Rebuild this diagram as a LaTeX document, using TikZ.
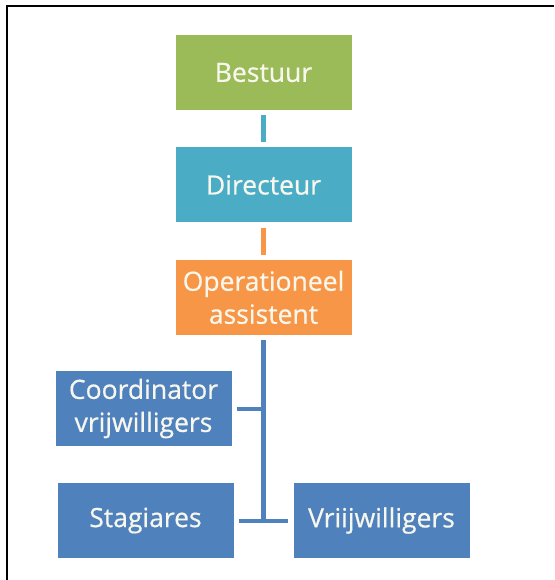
\documentclass[tikz,border=0pt]{standalone}
\usepackage{fontspec}
\setmainfont{Open Sans}
\newfontfamily\orgfont{Open Sans}[FakeBold=0.6]
\usepackage{tikz}
\usetikzlibrary{positioning}
\definecolor{orggreen}{HTML}{9BBB59}
\definecolor{orgteal}{HTML}{4BACC6}
\definecolor{orgorange}{HTML}{F79646}
\definecolor{orgblue}{HTML}{4F81BD}
\definecolor{boxtext}{HTML}{F7F7EE}
\tikzset{
  orgbox/.style={rectangle, minimum width=176pt, minimum height=75pt, inner sep=0pt,
    align=center, text=boxtext, font=\orgfont\fontsize{26.5}{33}\selectfont},
  orgline/.style={line width=5pt, shorten <=5pt, shorten >=5pt}
}

\begin{document}
\begin{tikzpicture}[x=1pt,y=-1pt,node distance=37pt]
\useasboundingbox (0,0) rectangle (554,580);
\draw[line width=2pt] (6.5,580) -- (6.5,6.5) -- (554,6.5);

\node[orgbox, fill=orggreen] (bestuur) at (263.5,72.5) {Bestuur};
\node[orgbox, fill=orgteal, below=of bestuur] (directeur) {Directeur};
\node[orgbox, fill=orgorange, below=of directeur] (operationeel) {Operationeel\\assistent};
\node[orgbox, fill=orgblue] (coordinator) at (143.5,408.5) {Coordinator\\vrijwilligers};
\node[orgbox, fill=orgblue] (stagiares) at (145.5,520.5) {Stagiares};
\node[orgbox, fill=orgblue] (vrijwilligers) at (381.5,520.5) {Vriijwilligers};

\draw[orgline, orgteal] (bestuur) -- (directeur);
\draw[orgline, orgorange] (directeur) -- (operationeel);

% lower branches
\coordinate (spine) at (operationeel.south |- stagiares.east);
\draw[orgline, orgblue, shorten >=0pt] (operationeel.south) -- (spine);
\draw[orgline, orgblue, line width=4pt, shorten >=0pt] (coordinator.east) -- (coordinator.east -| spine);
\draw[orgline, orgblue, line width=4pt] (stagiares.east) -- (vrijwilligers.west);
\end{tikzpicture}
\end{document}
